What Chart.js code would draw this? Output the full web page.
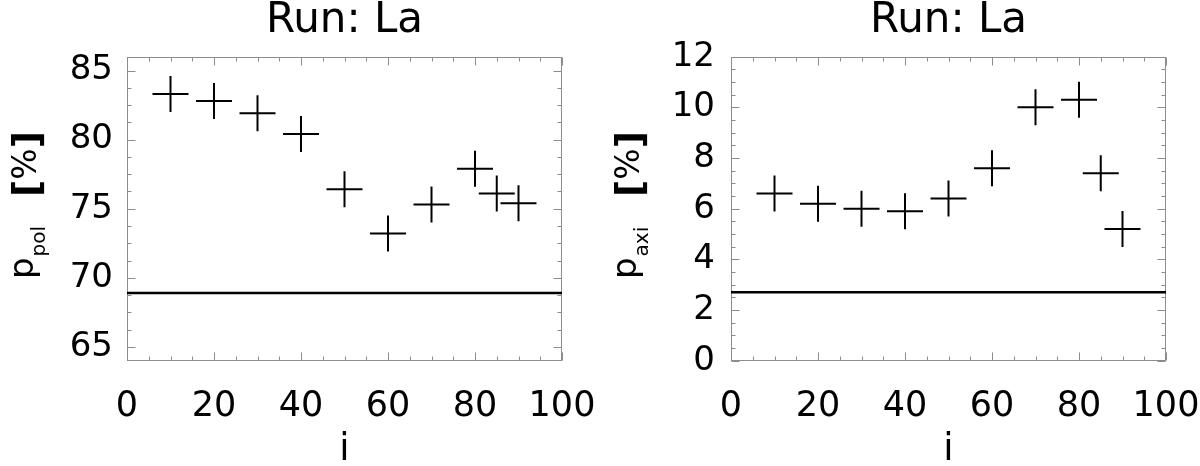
<!DOCTYPE html>
<html lang="en">
<head>
    <meta charset="UTF-8">
    <title>Run: La</title>
    <script src="https://cdn.jsdelivr.net/npm/chart.js@4"></script>
    <style>
        body { margin: 0; background: #fff; }
        .row { display: flex; width: 1200px; height: 466px; }
    </style>
</head>
<body>
    <div class="row">
        <canvas id="polChart" width="600" height="466"></canvas>
        <canvas id="axiChart" width="600" height="466"></canvas>
    </div>
<script>
    // inclination angles of the runs
    const incl = [10, 20, 30, 40, 50, 60, 70, 80, 85, 90]
    const pPol = [83.3, 82.8, 81.9, 80.4, 76.4, 73.2, 75.3, 77.9, 76.1, 75.4]
    const pPolRef = 68.9
    const pAxi = [6.6, 6.2, 6.0, 5.9, 6.4, 7.6, 10.0, 10.3, 7.4, 5.2]
    const pAxiRef = 2.7
    const xTicks = [0, 20, 40, 60, 80, 100]
    const polTicks = [65, 70, 75, 80, 85]
    const axiTicks = [0, 2, 4, 6, 8, 10, 12]

    Chart.defaults.font.family = "'DejaVu Sans', sans-serif"
    Chart.defaults.color = '#000'

    // frame with inward major/minor ticks on all four sides
    const boxTicks = {
        id: 'boxTicks',
        beforeDatasetsDraw(chart, args, opts) {
            const {ctx, chartArea: a, scales: {x, y}} = chart
            const L = Math.round(a.left) + 0.5, R = Math.round(a.right) - 0.5
            const T = Math.round(a.top) + 0.5, B = Math.round(a.bottom) - 0.5
            ctx.save()
            ctx.strokeStyle = '#8c8c8c'
            ctx.lineWidth = 1
            ctx.strokeRect(L, T, R - L, B - T)
            ctx.beginPath()
            for (let v = x.min; v <= x.max + 1e-9; v += opts.xMinor) {
                const px = Math.round(x.getPixelForValue(v)) + 0.5
                const len = xTicks.includes(Math.round(v)) ? 8 : 4
                ctx.moveTo(px, B); ctx.lineTo(px, B - len)
                ctx.moveTo(px, T); ctx.lineTo(px, T + len)
            }
            const yMajor = opts.yMajor
            for (let v = yMajor[0]; v <= y.max + 1e-9; v += opts.yMinor) {
                const py = Math.round(y.getPixelForValue(v)) + 0.5
                const len = yMajor.some(m => Math.abs(m - v) < 1e-6) ? 8 : 4
                ctx.moveTo(L, py); ctx.lineTo(L + len, py)
                ctx.moveTo(R, py); ctx.lineTo(R - len, py)
            }
            for (let v = yMajor[0] - opts.yMinor; v >= y.min - 1e-9; v -= opts.yMinor) {
                const py = Math.round(y.getPixelForValue(v)) + 0.5
                ctx.moveTo(L, py); ctx.lineTo(L + 4, py)
                ctx.moveTo(R, py); ctx.lineTo(R - 4, py)
            }
            ctx.stroke()
            ctx.restore()
        }
    }

    // rotated y title: p with subscript, then [%]
    const yTitle = {
        id: 'yTitle',
        afterDraw(chart, args, opts) {
            const ctx = chart.ctx
            ctx.save()
            ctx.translate(opts.x, 279)
            ctx.rotate(-Math.PI / 2)
            ctx.fillStyle = '#000'
            ctx.textBaseline = 'alphabetic'
            ctx.font = "34px 'DejaVu Sans'"
            ctx.fillText('p', 0, 0)
            let u = ctx.measureText('p').width + 1
            ctx.font = "20px 'DejaVu Sans'"
            ctx.fillText(opts.sub, u, 12)
            u = 82
            ctx.font = "bold 38px 'DejaVu Sans'"
            ctx.fillText('[', u, 6)
            u += ctx.measureText('[').width
            ctx.font = "33px 'DejaVu Sans'"
            ctx.fillText('%', u, 3)
            u += ctx.measureText('%').width
            ctx.font = "bold 38px 'DejaVu Sans'"
            ctx.fillText(']', u, 6)
            ctx.restore()
        }
    }

    function makeChart(id, values, ref, yTicks, yMin, yMax, yMinor, sub, axisWidth, padRight, labelPad, titleX) {
        const ctx = document.getElementById(id).getContext('2d')
        return new Chart(ctx, {
            type: 'scatter',
            data: {
                datasets: [{
                    data: incl.map((v, i) => ({x: v, y: values[i]})),
                    pointStyle: 'cross',
                    pointRadius: 18,
                    pointBorderWidth: 2,
                    borderColor: '#000',
                    backgroundColor: '#000',
                    showLine: false
                }, {
                    type: 'line',
                    data: [{x: 0, y: ref}, {x: 100, y: ref}],
                    borderColor: '#000',
                    borderWidth: 2.5,
                    pointRadius: 0
                }]
            },
            options: {
                responsive: false,
                animation: false,
                events: [],
                layout: { padding: { left: 0, right: padRight, top: 0, bottom: 0 } },
                plugins: {
                    legend: { display: false },
                    tooltip: { enabled: false },
                    title: {
                        display: true,
                        text: 'Run: La',
                        fullSize: false,
                        font: { size: 42, weight: 'normal', lineHeight: 1.0 },
                        padding: { top: 0, bottom: 14.7 }
                    },
                    boxTicks: { xMinor: 5, yMinor: yMinor, yMajor: yTicks },
                    yTitle: { x: titleX, sub: sub }
                },
                scales: {
                    x: {
                        type: 'linear',
                        min: 0,
                        max: 100,
                        afterBuildTicks: s => { s.ticks = xTicks.map(v => ({value: v})) },
                        afterFit: s => { s.height = 105.3; s.paddingLeft = 0; s.paddingRight = 0 },
                        grid: { display: false, drawTicks: false },
                        border: { display: false },
                        ticks: { font: { size: 35, lineHeight: 1.2 }, padding: 25, maxRotation: 0, autoSkip: false },
                        title: {
                            display: true,
                            text: 'i',
                            font: { size: 37, lineHeight: 0.8 },
                            padding: { top: 0, bottom: 1 }
                        }
                    },
                    y: {
                        type: 'linear',
                        min: yMin,
                        max: yMax,
                        afterBuildTicks: s => { s.ticks = yTicks.map(v => ({value: v})) },
                        afterFit: s => { s.width = axisWidth; s.paddingTop = 0; s.paddingBottom = 0 },
                        grid: { display: false, drawTicks: false },
                        border: { display: false },
                        ticks: { font: { size: 34 }, padding: labelPad, autoSkip: false }
                    }
                }
            },
            plugins: [boxTicks, yTitle]
        })
    }

    makeChart('polChart', pPol, pPolRef, polTicks, 64, 86, 1.25, 'pol', 127, 38, 14, 33)
    makeChart('axiChart', pAxi, pAxiRef, axiTicks, 0, 12, 0.5, 'axi', 131, 34, 16, 36)
</script>
</body>
</html>
